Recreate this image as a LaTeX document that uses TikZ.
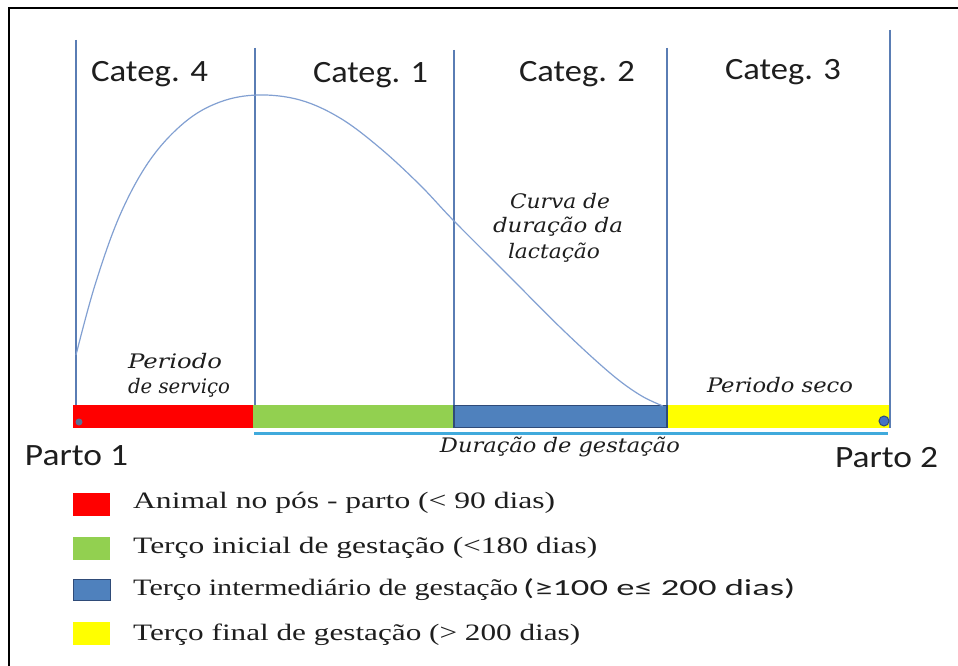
\documentclass[tikz,border=0pt]{standalone}
\usepackage{fontspec}
\usepackage{graphicx}
\setmainfont{Liberation Serif}
\newfontfamily\catfont{Carlito}
\newfontfamily\labfont{DejaVu Serif}
\newcommand\fitw[2]{\resizebox{#1pt}{\height}{#2}}
\definecolor{divline}{RGB}{90,125,180}
\definecolor{curvecol}{RGB}{130,160,210}
\definecolor{barred}{RGB}{255,0,0}
\definecolor{bargreen}{RGB}{146,208,80}
\definecolor{barblue}{RGB}{79,129,189}
\definecolor{barblueedge}{RGB}{47,75,120}
\definecolor{baryellow}{RGB}{255,255,0}
\definecolor{gestline}{RGB}{64,170,220}
\definecolor{dotcol}{RGB}{68,114,196}
\definecolor{txtgray}{RGB}{30,30,30}
\tikzset{
  divider/.style={draw=divline, line width=1.3pt},
  catlabel/.style={anchor=base, inner sep=0pt, font=\catfont\fontsize{31}{36}\selectfont, text=txtgray},
  itlabel/.style={anchor=base, inner sep=0pt, font=\labfont\itshape\fontsize{20}{23}\selectfont, text=txtgray},
  legtext/.style={anchor=base west, inner sep=0pt, font=\fontsize{23.5}{27}\selectfont, text=txtgray},
  swatch/.style={minimum width=37pt, minimum height=23pt, inner sep=0pt, anchor=north west}
}
\begin{document}
\begin{tikzpicture}[x=1pt,y=-1pt]
\useasboundingbox (0,0) rectangle (958,666);
\fill[white] (0,0) rectangle (958,666);
% frame
\draw[black, line width=1.5pt] (9,666) -- (9,8) -- (958,8);
% bars
\fill[barred] (73,405) rectangle (253,428);
\fill[bargreen] (253,405) rectangle (454,428);
\fill[baryellow] (667,405) rectangle (890,428);
\filldraw[fill=barblue, draw=barblueedge, line width=1.2pt] (454,405.5) rectangle (667,427.5);
% gestation line
\coordinate (gs) at (254,433);
\coordinate (ge) at (888,433);
\draw[gestline, line width=3pt] (gs) -- (ge);
% dividers
\coordinate (d0t) at (76,40);  \coordinate (d0b) at (76,405);
\coordinate (d1t) at (255,48); \coordinate (d1b) at (255,405);
\coordinate (d2t) at (454,50); \coordinate (d2b) at (454,405);
\coordinate (d3t) at (667,48); \coordinate (d3b) at (667,405);
\coordinate (d4t) at (890,30); \coordinate (d4b) at (890,428);
\foreach \i in {0,...,4} { \draw[divider] (d\i t) -- (d\i b); }
% lactation curve
\draw[curvecol, line width=1.2pt] plot[smooth, tension=0.6] coordinates {
 (76,355) (95,285) (120,215) (150,160) (185,122) (220,102) (258,95) (300,100)
 (340,118) (380,148) (420,185) (454,221) (510,277) (563,330) (610,373) (640,395) (663,406)};
% dots
\node[circle, fill=barblueedge!80, minimum size=7pt, inner sep=0pt] (p1dot) at (79,422) {};
\node[circle, fill=dotcol, draw=barblueedge, line width=1pt, minimum size=10pt, inner sep=0pt] (p2dot) at (884,421) {};
% category labels
\node[catlabel] (c4) at (149.5,82) {\fitw{117}{Categ. 4}};
\node[catlabel] (c1) at (370.5,83) {\fitw{115}{Categ. 1}};
\node[catlabel] (c2) at (577,82) {\fitw{116}{Categ. 2}};
\node[catlabel] (c3) at (783,80) {\fitw{116}{Categ. 3}};
% parto labels
\node[catlabel] (parto1) at (76.5,465) {\fitw{103}{Parto 1}};
\node[catlabel] (parto2) at (886.5,467) {\fitw{103}{Parto 2}};
% italic labels
\node[itlabel] (ps1) at (175,368) {\fitw{94}{Periodo}};
\node[itlabel] (ps2) at (179,393) {\fitw{102}{de serviço}};
\node[itlabel] (pseco) at (780,392) {\fitw{146}{Periodo seco}};
\node[itlabel] (dg) at (560,452) {\fitw{240}{Duração de gestação}};
\node[itlabel] (cv1) at (560,208) {\fitw{100}{Curva de}};
\node[itlabel] (cv2) at (558,232) {\fitw{130}{duração da}};
\node[itlabel] (cv3) at (554,258) {\fitw{92}{lactação}};
% legend
\node[swatch, fill=barred] (sw1) at (73,493) {};
\node[swatch, fill=bargreen] (sw2) at (73,537) {};
\node[swatch, fill=barblue, draw=barblueedge, line width=1.2pt, minimum height=21pt] (sw3) at (73,579) {};
\node[swatch, fill=baryellow] (sw4) at (73,622) {};
\node[legtext] (lt1) at (133,508) {\fitw{422}{Animal no pós - parto (< 90 dias)}};
\node[legtext] (lt2) at (133,553) {\fitw{464}{Terço inicial de gestação (<180 dias)}};
\node[legtext] (lt3) at (133,595) {\fitw{385}{Terço intermediário de gestação}};
\node[legtext, font=\catfont\fontsize{23}{27}\selectfont] (lt3b) at (523,595) {\fitw{272}{(≥100 e≤ 200 dias)}};
\node[legtext] (lt4) at (133,640) {\fitw{447}{Terço final de gestação (> 200 dias)}};
\end{tikzpicture}
\end{document}
